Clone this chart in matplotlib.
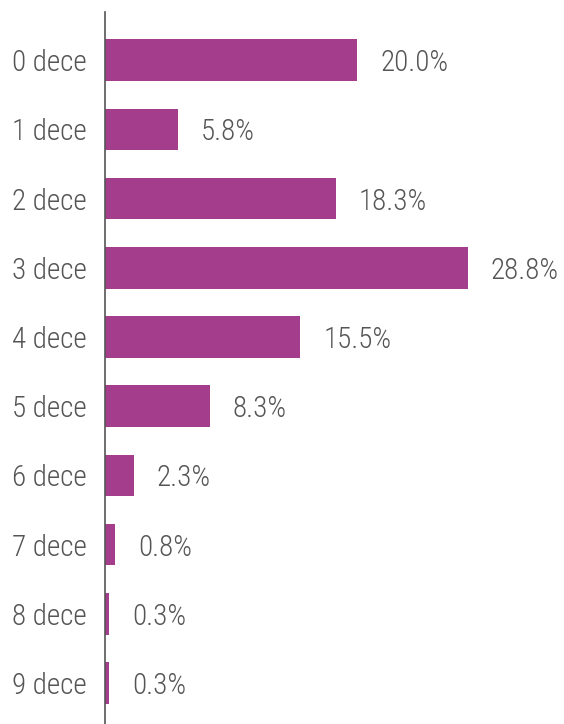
import matplotlib
matplotlib.use("Agg")
import matplotlib.pyplot as plt

categories = ["0 dece", "1 dece", "2 dece", "3 dece", "4 dece",
              "5 dece", "6 dece", "7 dece", "8 dece", "9 dece"]
values = [20.0, 5.8, 18.3, 28.8, 15.5, 8.3, 2.3, 0.8, 0.3, 0.3]

plt.rcParams['font.family'] = ['Roboto Condensed', 'Liberation Sans Narrow', 'Roboto', 'DejaVu Sans']

W, H = 564, 724
fig = plt.figure(figsize=(W / 100, H / 100), dpi=100)
ax = fig.add_axes([105 / W, 0, (W - 105) / W, (H - 12) / H])

bar_color = "#a43d8c"
text_color = "#555555"
pos = list(range(len(categories)))
ax.barh(pos, values, height=0.6, color=bar_color)
ax.set_xlim(0, 459 / 12.6)
ax.set_ylim(9.59, -0.694)

for p, v in zip(pos, values):
    ax.annotate(f"{v:.1f}%", xy=(v, p), xytext=(23, -3), textcoords="offset pixels",
                va="center", ha="left", fontsize=21, color=text_color, fontweight="light")

ax.set_yticks(pos)
ax.set_yticklabels(categories, fontsize=21, color=text_color, fontweight="light")
ax.tick_params(axis="y", length=0, pad=13)
ax.set_xticks([])
for s in ["top", "right", "bottom"]:
    ax.spines[s].set_visible(False)
ax.spines["left"].set_color("#555555")
ax.spines["left"].set_linewidth(1.2)

fig.savefig("out.png", dpi=100)
